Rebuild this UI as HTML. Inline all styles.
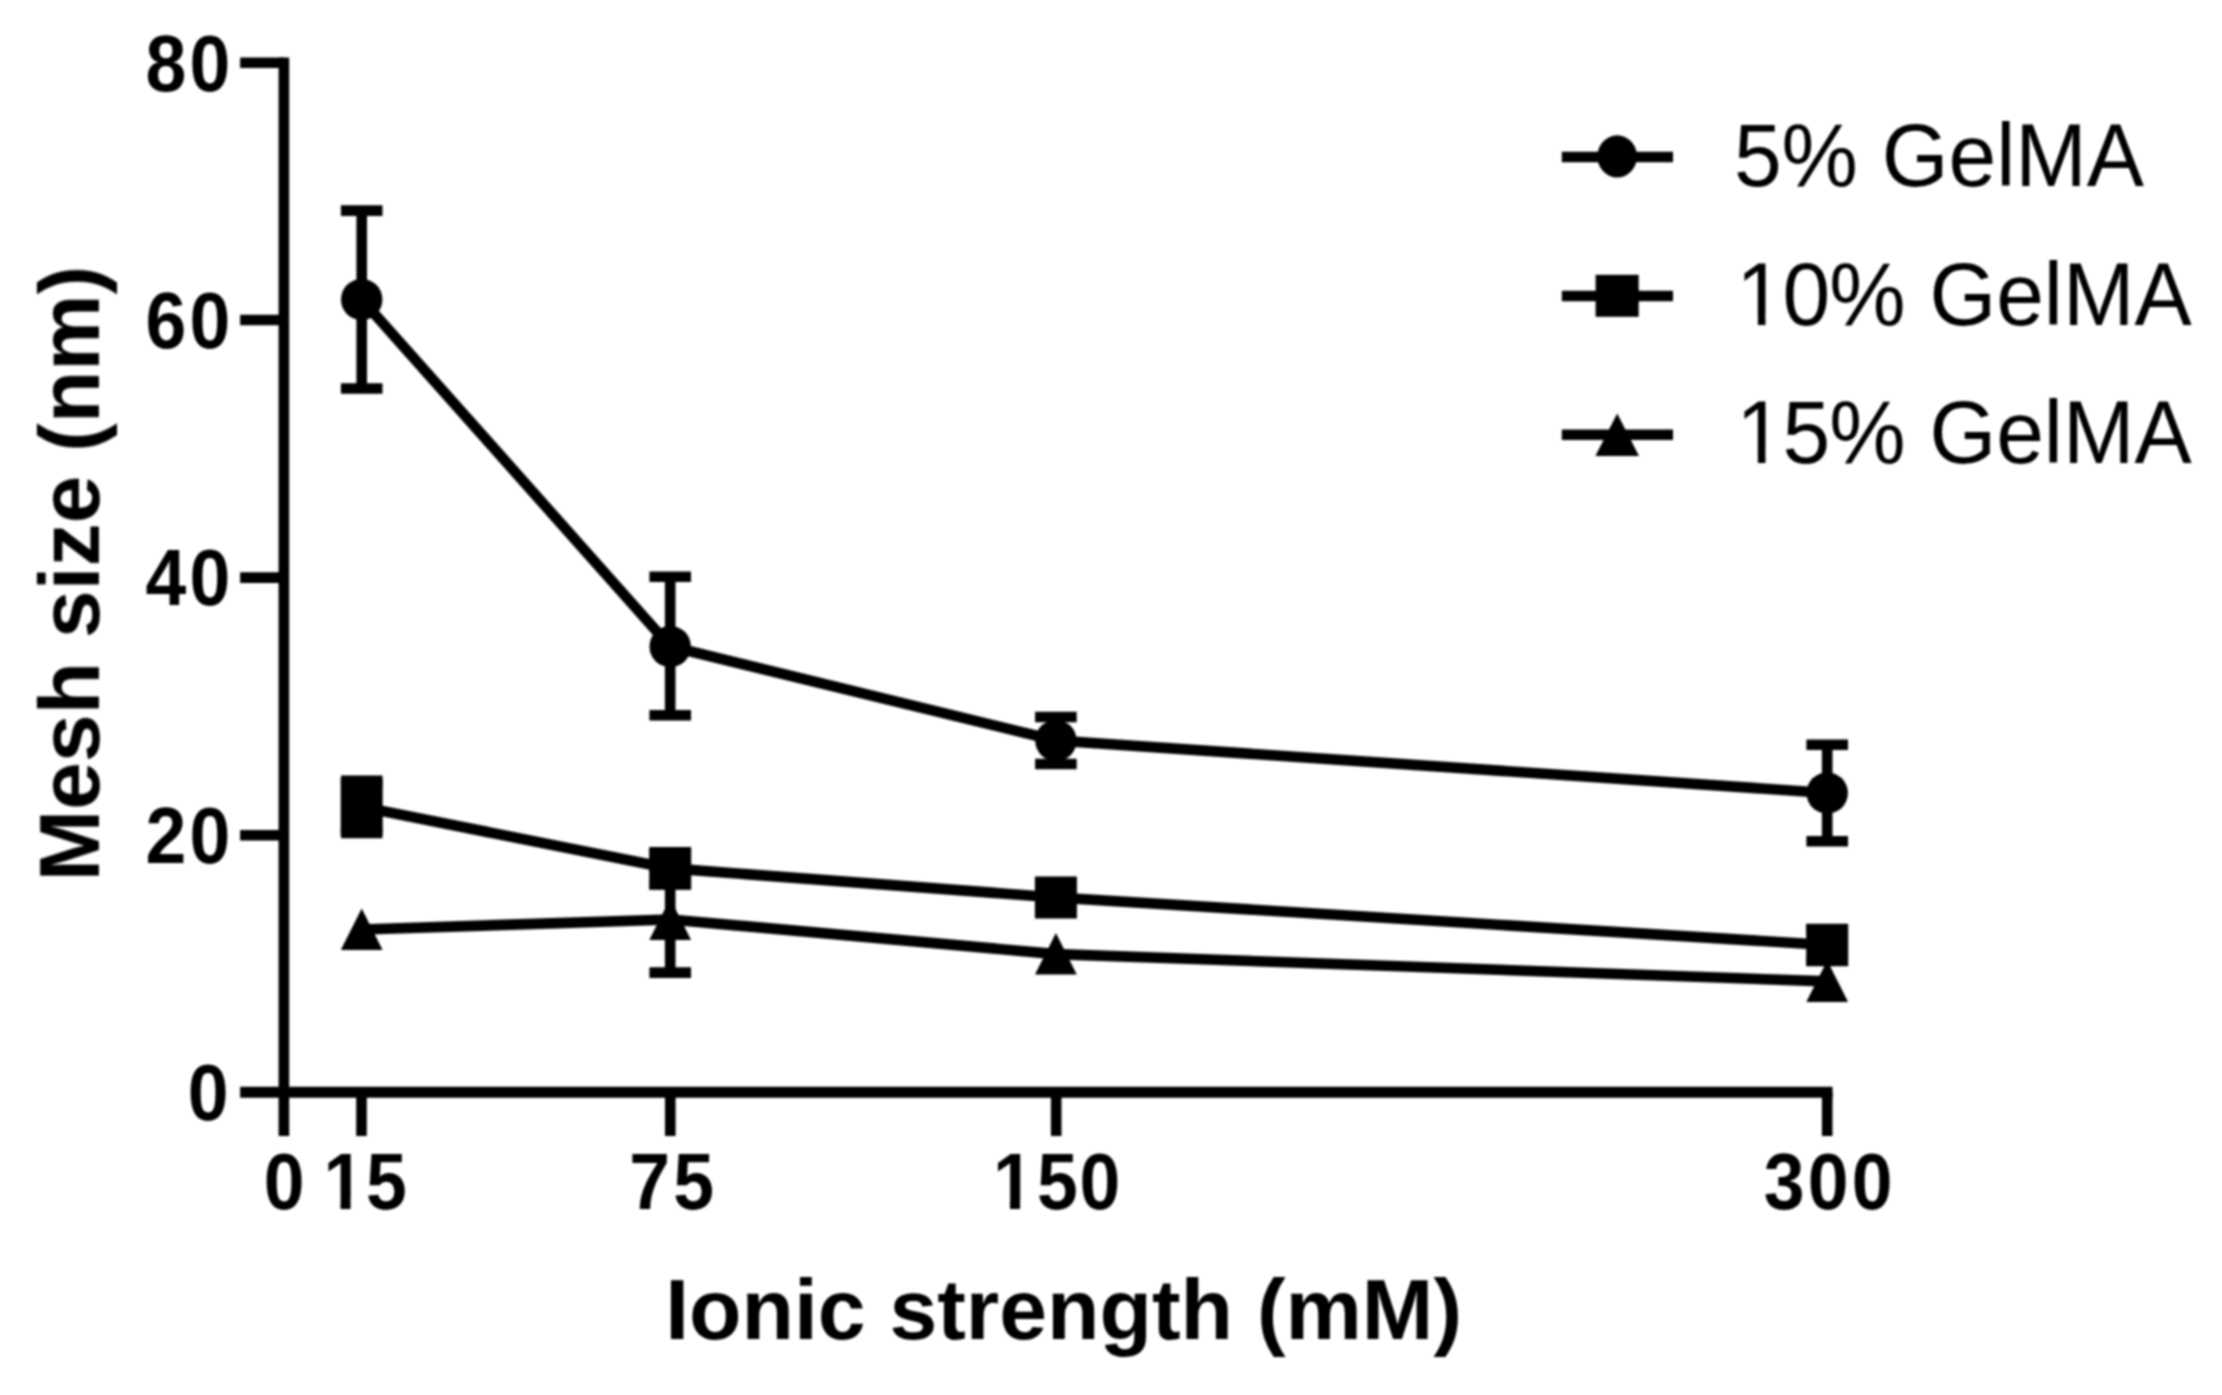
<!DOCTYPE html>
<html lang="en">
<head>
<meta charset="utf-8">
<title>Mesh size vs ionic strength</title>
<style>
  html, body { margin: 0; padding: 0; background: #ffffff; }
  body { width: 2222px; height: 1395px; overflow: hidden; }
  svg { display: block; }
  text { font-family: "Liberation Sans", Arial, Helvetica, sans-serif; fill: #000; }
  .tick { font-weight: bold; font-size: 78.2px; letter-spacing: 3.42px; }
  .title { font-weight: bold; font-size: 85.9px; }
  .legend { font-weight: normal; font-size: 85.8px; }
  .ln { stroke: #000; stroke-width: 10.6; fill: none; stroke-linecap: butt; stroke-linejoin: miter; }
</style>
</head>
<body>
<svg width="2222" height="1395" viewBox="0 0 2222 1395">
  <defs>
    <filter id="soft" x="0" y="0" width="2222" height="1395" filterUnits="userSpaceOnUse" color-interpolation-filters="sRGB">
      <feGaussianBlur stdDeviation="0.9"/>
    </filter>
  </defs>
  <rect x="0" y="0" width="2222" height="1395" fill="#ffffff"/>
  <g filter="url(#soft)">

  <!-- axes -->
  <g class="ln">
    <line x1="283.9" y1="57.5" x2="283.9" y2="1136"/>
    <line x1="240.1" y1="1092.25" x2="1832.5" y2="1092.25" stroke-width="11.1"/>
    <line x1="240.1" y1="62.8" x2="284" y2="62.8"/>
    <line x1="240.1" y1="320.0" x2="284" y2="320.0"/>
    <line x1="240.1" y1="577.6" x2="284" y2="577.6"/>
    <line x1="240.1" y1="835.2" x2="284" y2="835.2"/>
    <line x1="361.5" y1="1092" x2="361.5" y2="1136"/>
    <line x1="670.3" y1="1092" x2="670.3" y2="1136"/>
    <line x1="1056.2" y1="1092" x2="1056.2" y2="1136"/>
    <line x1="1827.2" y1="1092" x2="1827.2" y2="1136"/>
  </g>

  <!-- tick labels -->
  <g>
    <g transform="translate(145.51 91.25) scale(0.938 1.025)"><text class="tick">80</text></g>
    <g transform="translate(145.51 348.10) scale(0.938 1.025)"><text class="tick">60</text></g>
    <g transform="translate(145.51 605.40) scale(0.938 1.025)"><text class="tick">40</text></g>
    <g transform="translate(145.51 863.30) scale(0.938 1.025)"><text class="tick">20</text></g>
    <g transform="translate(187.81 1120.30) scale(0.938 1.025)"><text class="tick">0</text></g>
    <g transform="translate(263.66 1209.25) scale(0.938 1.025)"><text class="tick">0</text></g>
    <g transform="translate(321.91 1209.25) scale(0.938 1.025)"><text class="tick" dx="1.60 -1.60">15</text><rect fill="#fff" x="5.00" y="-9.58" width="14.85" height="11.08"/><rect fill="#fff" x="30.58" y="-9.58" width="13.48" height="11.08"/></g>
    <g transform="translate(629.35 1209.25) scale(0.938 1.025)"><text class="tick">75</text></g>
    <g transform="translate(991.59 1209.25) scale(0.938 1.025)"><text class="tick" dx="1.39 0.11 -1.49">150</text><rect fill="#fff" x="4.78" y="-9.58" width="14.85" height="11.08"/><rect fill="#fff" x="30.37" y="-9.58" width="13.48" height="11.08"/></g>
    <g transform="translate(1763.76 1209.25) scale(0.938 1.025)"><text class="tick">300</text></g>
  </g>

  <!-- axis titles -->
  <text class="title" text-anchor="middle" x="1063.6" y="1339.0">Ionic strength (mM)</text>
  <text class="title" text-anchor="middle" transform="translate(98.9 573.6) rotate(-90)">Mesh size (nm)</text>

  <!-- series: 15% GelMA (triangles) -->
  <g class="ln">
    <polyline points="361.7,929.5 670.2,919.5 1055.9,954.1 1827.2,981.4"/>
    <line x1="670.2" y1="867" x2="670.2" y2="972.6"/>
    <line x1="649.4" y1="867" x2="691" y2="867"/>
    <line x1="649.4" y1="972.6" x2="691" y2="972.6"/>
  </g>
  <g fill="#000">
    <polygon points="361.7,908.5 382.6,950 340.8,950"/>
    <polygon points="670.2,898.5 691.1,940 649.3,940"/>
    <polygon points="1055.9,933.1 1076.8,974.6 1035,974.6"/>
    <polygon points="1827.2,960.4 1848.1,1001.9 1806.3,1001.9"/>
  </g>

  <!-- series: 10% GelMA (squares) -->
  <g class="ln">
    <polyline points="361.7,806.9 670.2,868.4 1055.9,897.5 1827.2,945"/>
    <line x1="361.7" y1="780.9" x2="361.7" y2="832.9"/>
    <line x1="340.9" y1="780.9" x2="382.5" y2="780.9"/>
    <line x1="340.9" y1="832.9" x2="382.5" y2="832.9"/>
    <line x1="649.4" y1="852.3" x2="691" y2="852.3"/>
    <line x1="649.4" y1="884.5" x2="691" y2="884.5"/>
    <line x1="1806.4" y1="929" x2="1848" y2="929"/>
    <line x1="1806.4" y1="961" x2="1848" y2="961"/>
  </g>
  <g fill="#000">
    <rect x="340.7" y="779" width="42" height="55.8"/>
    <rect x="649.2" y="847.4" width="42" height="42"/>
    <rect x="1034.9" y="876.5" width="42" height="42"/>
    <rect x="1806.2" y="924" width="42" height="42"/>
  </g>

  <!-- series: 5% GelMA (circles) -->
  <g class="ln">
    <polyline points="361.7,299.5 670.2,646.5 1055.9,740.5 1827.2,793"/>
    <line x1="361.7" y1="210.6" x2="361.7" y2="388.5"/>
    <line x1="340.9" y1="210.6" x2="382.5" y2="210.6"/>
    <line x1="340.9" y1="388.5" x2="382.5" y2="388.5"/>
    <line x1="670.2" y1="576.7" x2="670.2" y2="715.3"/>
    <line x1="649.4" y1="576.7" x2="691" y2="576.7"/>
    <line x1="649.4" y1="715.3" x2="691" y2="715.3"/>
    <line x1="1055.9" y1="717" x2="1055.9" y2="764"/>
    <line x1="1035.1" y1="717" x2="1076.7" y2="717"/>
    <line x1="1035.1" y1="764" x2="1076.7" y2="764"/>
    <line x1="1827.2" y1="744.8" x2="1827.2" y2="841.3"/>
    <line x1="1806.4" y1="744.8" x2="1848" y2="744.8"/>
    <line x1="1806.4" y1="841.3" x2="1848" y2="841.3"/>
  </g>
  <g fill="#000">
    <circle cx="361.7" cy="299.5" r="20.7"/>
    <circle cx="670.2" cy="646.5" r="20.7"/>
    <circle cx="1055.9" cy="740.5" r="20.7"/>
    <circle cx="1827.2" cy="793" r="20.7"/>
  </g>

  <!-- legend -->
  <g class="ln">
    <line x1="1561.8" y1="157" x2="1673" y2="157"/>
    <line x1="1561.8" y1="296" x2="1673" y2="296"/>
    <line x1="1561.8" y1="434.8" x2="1673" y2="434.8"/>
  </g>
  <g fill="#000">
    <ellipse cx="1617.2" cy="156.4" rx="19.8" ry="21.1"/>
    <rect x="1595.6" y="274.8" width="43.1" height="42"/>
    <polygon points="1617.2,413.5 1639,456 1595.4,456"/>
  </g>
  <g class="legend">
    <text transform="translate(1733.9 186.1) scale(1 1.03)">5% GelMA</text>
    <g transform="translate(1733.9 324.7) scale(1 1.03)"><text dx="2.4 -1.6 -0.8">10% GelMA</text><rect fill="#fff" x="7.26" y="-8.01" width="16.72" height="9.51"/><rect fill="#fff" x="31.56" y="-8.01" width="15.63" height="9.51"/></g>
    <g transform="translate(1733.9 463.3) scale(1 1.03)"><text dx="2.4 -1.6 -0.8">15% GelMA</text><rect fill="#fff" x="7.26" y="-8.01" width="16.72" height="9.51"/><rect fill="#fff" x="31.56" y="-8.01" width="15.63" height="9.51"/></g>
  </g>
  </g>
</svg>
</body>
</html>
